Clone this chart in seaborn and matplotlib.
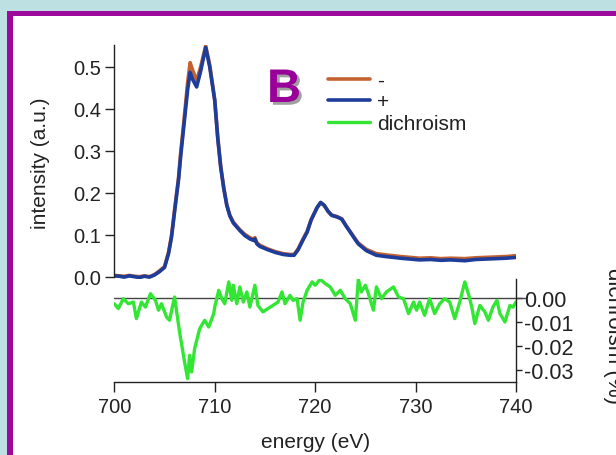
import matplotlib
matplotlib.use("Agg")
import matplotlib.pyplot as plt
import matplotlib.patheffects as pe
from matplotlib.patches import Rectangle
from matplotlib.ticker import FormatStrFormatter
import pandas as pd
import seaborn as sns

# XAS spectra (energy in eV, intensity in a.u.)
energy = [700.0, 700.5, 701.0, 701.5, 702.0, 702.5, 703.0, 703.5, 704.0, 704.5,
          705.0, 705.4, 705.7, 706.05, 706.4, 706.6, 706.95, 707.3, 707.55, 707.8,
          708.2, 708.6, 709.1, 709.5, 710.0, 710.3, 710.6, 710.9, 711.2, 711.5,
          711.85, 712.5, 713.0, 713.5, 713.9, 714.0, 714.2, 714.5, 715.2, 716.0,
          716.8, 717.5, 717.9, 718.3, 718.8, 719.2, 719.6, 720.2, 720.55, 720.9,
          721.3, 721.65, 722.2, 722.65, 723.1, 723.5, 724.0, 724.3, 725.1, 726.1,
          727.0, 727.8, 728.5, 729.45, 730.4, 731.5, 732.5, 733.5, 734.9, 736.0,
          737.0, 738.0, 739.0, 740.0]
plus_vals = [0.002, 0.001, -0.001, 0.002, 0.000, -0.002, 0.001, -0.001, 0.004, 0.012,
             0.022, 0.055, 0.095, 0.165, 0.232, 0.285, 0.365, 0.445, 0.487, 0.470,
             0.452, 0.490, 0.546, 0.500, 0.420, 0.330, 0.260, 0.210, 0.170, 0.145,
             0.128, 0.110, 0.098, 0.090, 0.086, 0.090, 0.078, 0.072, 0.065, 0.058,
             0.053, 0.051, 0.051, 0.064, 0.088, 0.106, 0.135, 0.165, 0.177, 0.170,
             0.155, 0.146, 0.142, 0.137, 0.120, 0.106, 0.088, 0.078, 0.062, 0.051,
             0.048, 0.046, 0.044, 0.042, 0.040, 0.041, 0.039, 0.040, 0.038, 0.041,
             0.042, 0.043, 0.044, 0.046]
minus_vals = [0.003, 0.002, 0.001, 0.003, 0.001, 0.000, 0.002, 0.000, 0.005, 0.014,
              0.024, 0.058, 0.098, 0.168, 0.236, 0.292, 0.375, 0.462, 0.510, 0.492,
              0.467, 0.500, 0.550, 0.505, 0.422, 0.332, 0.262, 0.212, 0.172, 0.147,
              0.130, 0.112, 0.101, 0.093, 0.089, 0.093, 0.081, 0.075, 0.067, 0.060,
              0.055, 0.053, 0.053, 0.066, 0.090, 0.108, 0.136, 0.165, 0.176, 0.170,
              0.156, 0.147, 0.143, 0.138, 0.121, 0.107, 0.090, 0.080, 0.065, 0.055,
              0.052, 0.050, 0.048, 0.046, 0.044, 0.045, 0.043, 0.044, 0.043, 0.045,
              0.046, 0.047, 0.048, 0.050]

# dichroism (%)
dich_energy = [700.0, 700.4, 700.9, 701.4, 701.9, 702.2, 702.7, 703.1, 703.6, 704.1,
               704.4, 704.7, 705.2, 705.5, 706.0, 706.5, 707.0, 707.3, 707.5, 707.7,
               708.0, 708.5, 709.0, 709.4, 709.9, 710.0, 710.4, 710.7, 711.0, 711.4,
               711.7, 711.85, 712.2, 712.5, 712.85, 713.2, 713.5, 714.0, 714.3, 714.8,
               715.3, 715.8, 716.3, 716.7, 717.0, 717.5, 717.8, 718.2, 718.5, 718.8,
               719.2, 719.7, 720.0, 720.5, 721.0, 721.5, 722.0, 722.5, 723.0, 723.5,
               724.0, 724.3, 724.6, 725.0, 725.3, 725.8, 726.1, 726.6, 727.1, 727.8,
               728.3, 728.8, 729.3, 729.8, 730.1, 730.4, 730.9, 731.4, 731.9, 732.4,
               732.9, 733.4, 733.9, 734.4, 734.9, 735.3, 735.6, 735.9, 736.4, 736.9,
               737.25, 737.7, 738.1, 738.4, 738.9, 739.4, 739.7, 740.0]
dich_vals = [-0.0024, -0.0044, -0.0003, -0.0024, -0.0017, -0.0086, -0.0017, -0.0038, 0.0018, -0.0010,
             -0.0051, -0.0024, -0.0079, -0.0093, 0.0004, -0.0142, -0.0267, -0.0336, -0.0239, -0.0308,
             -0.0211, -0.0128, -0.0093, -0.0121, -0.0065, -0.0038, 0.0032, -0.0003, -0.0024, 0.0067,
             -0.0010, 0.0053, -0.0024, 0.0046, -0.0017, 0.0025, -0.0038, 0.0053, -0.0031, -0.0058,
             -0.0044, -0.0031, -0.0017, 0.0025, -0.0024, 0.0011, -0.0010, -0.0003, -0.0093, -0.0017,
             0.0032, 0.0067, 0.0053, 0.0078, 0.0060, 0.0046, 0.0011, 0.0032, -0.0003, -0.0024,
             -0.0093, 0.0078, 0.0025, 0.0053, 0.0018, -0.0051, 0.0046, -0.0003, 0.0025, 0.0046,
             0.0004, -0.0003, -0.0065, -0.0017, -0.0051, -0.0017, -0.0072, -0.0003, -0.0065, -0.0024,
             -0.0003, -0.0017, -0.0086, -0.0017, 0.0067, 0.0011, -0.0038, -0.0107, -0.0031, -0.0058,
             -0.0093, -0.0038, -0.0010, -0.0065, -0.0100, -0.0031, -0.0038, -0.0017]

xticks = [700, 710, 720, 730, 740]
top_yticks = [0.0, 0.1, 0.2, 0.3, 0.4, 0.5]
bot_yticks = [0.00, -0.01, -0.02, -0.03]

ORANGE = "#c4622f"
BLUE = "#1e3c9a"
GREEN = "#33e633"
PURPLE = "#9b0a9b"
INK = "#222222"

sns.set_style("ticks")
plt.rcParams["font.family"] = ["Liberation Sans", "DejaVu Sans"]
plt.rcParams["axes.unicode_minus"] = False

W, H = 616, 456
fig = plt.figure(figsize=(W / 100, H / 100), dpi=100)
fig.patch.set_facecolor("#bde0e3")

# purple frame with white inside
fig.patches.append(Rectangle((7 / W, -0.1), 2, 1 - 12 / H + 0.1, transform=fig.transFigure,
                             facecolor=PURPLE, edgecolor="none", zorder=-2))
fig.patches.append(Rectangle((13 / W, -0.1), 2, 1 - 17 / H + 0.1, transform=fig.transFigure,
                             facecolor="white", edgecolor="none", zorder=-1))

x0, x1 = 114.3, 516.0
ax_top = fig.add_axes([x0 / W, 1 - 280.2 / H, (x1 - x0) / W, (280.2 - 46) / H])
ax_bot = fig.add_axes([x0 / W, 1 - 383 / H, (x1 - x0) / W, (383 - 280) / H])
for ax in (ax_top, ax_bot):
    ax.patch.set_alpha(0)

spec = pd.DataFrame({"energy": energy, "minus": minus_vals, "plus": plus_vals})
dich = pd.DataFrame({"energy": dich_energy, "dichroism": dich_vals})

sns.lineplot(data=spec, x="energy", y="minus", ax=ax_top, color=ORANGE, lw=2.6, legend=False)
sns.lineplot(data=spec, x="energy", y="plus", ax=ax_top, color=BLUE, lw=2.6, legend=False)
sns.lineplot(data=dich, x="energy", y="dichroism", ax=ax_bot, color=GREEN, lw=2.4, legend=False)

# top panel: intensity
ax_top.set_xlim(700, 740)
ax_top.set_ylim(-0.006, 0.552)
for s in ("top", "right", "bottom"):
    ax_top.spines[s].set_visible(False)
ax_top.spines["left"].set_bounds(0, 0.552)
ax_top.spines["left"].set_color(INK)
ax_top.spines["left"].set_linewidth(1.0)
ax_top.set_xticks([])
ax_top.set_yticks(top_yticks)
ax_top.yaxis.set_major_formatter(FormatStrFormatter("%.1f"))
ax_top.tick_params(axis="y", direction="out", length=6.5, width=1, color=INK,
                   labelsize=14.5, labelcolor=INK, pad=3)
ax_top.set_xlabel("")
ax_top.set_ylabel("intensity (a.u.)", fontsize=15, color=INK, va="center")
ax_top.yaxis.set_label_coords((41 - x0) / (x1 - x0), 0.5)

# bottom panel: dichroism
ax_bot.set_xlim(700, 740)
ax_bot.set_ylim(-0.035, 0.0079)
for s in ("top", "left"):
    ax_bot.spines[s].set_visible(False)
for s in ("right", "bottom"):
    ax_bot.spines[s].set_color(INK)
    ax_bot.spines[s].set_linewidth(1.0)
ax_bot.axhline(0, xmin=0, xmax=1.022, color="#444444", lw=1.0, clip_on=False, zorder=1)
ax_bot.yaxis.tick_right()
ax_bot.set_yticks(bot_yticks)
ax_bot.yaxis.set_major_formatter(FormatStrFormatter("%.2f"))
ax_bot.set_xticks(xticks)
ax_bot.tick_params(axis="y", direction="out", length=4.5, width=1, color=INK,
                   labelsize=15.5, labelcolor=INK, pad=1)
ax_bot.tick_params(axis="x", direction="out", length=7, width=1, color=INK,
                   labelsize=14.5, labelcolor=INK, pad=4)
ax_bot.set_ylabel("")
ax_bot.set_xlabel("energy (eV)", fontsize=15, color=INK, va="center")
ax_bot.xaxis.set_label_coords(0.5, (383 - 443) / 103)

fig.text(603 / W, 1 - 336 / H, "dichroism (%)", rotation=270, ha="left", va="center",
         fontsize=16, color=INK)

# panel letter
fig.text(267 / W, 1 - 103 / H, "B", fontsize=34, fontweight="bold", color="#990099",
         ha="left", va="baseline",
         path_effects=[pe.withSimplePatchShadow(offset=(2, -2), shadow_rgbFace="#888888", alpha=0.8)])

handles = [ax_top.get_lines()[0], ax_top.get_lines()[1], ax_bot.get_lines()[0]]
fig.legend(handles, ["-", "+", "dichroism"], loc="upper left",
           bbox_to_anchor=(328 / W, 1 - 72 / H), bbox_transform=fig.transFigure,
           frameon=False, fontsize=15, handlelength=2.0, handletextpad=0.35,
           labelspacing=0.12, borderpad=0, borderaxespad=0, labelcolor=INK)

fig.savefig("out.png", dpi=100)
